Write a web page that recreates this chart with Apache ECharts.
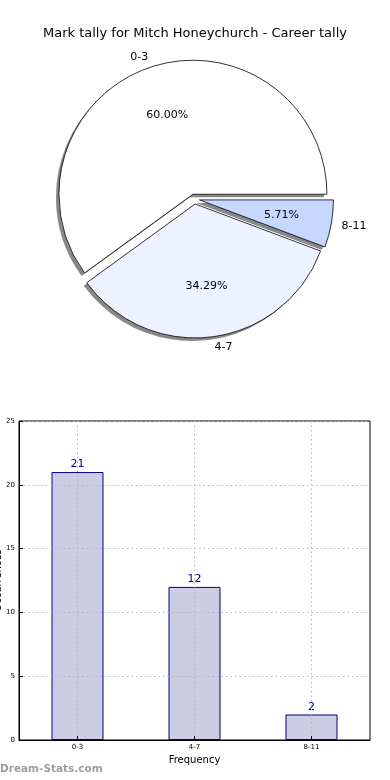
<!DOCTYPE html>
<html>
<head>
<meta charset="utf-8">
<script src="https://cdn.jsdelivr.net/npm/echarts@6/dist/echarts.min.js"></script>
<style>
html,body{margin:0;padding:0;background:#fff;}
#c{width:390px;height:780px;}
</style>
</head>
<body>
<div id="c"></div>
<script>
var titleText = 'Mark tally for Mitch Honeychurch - Career tally';
var categories = ['0-3', '4-7', '8-11'];
var counts = [21, 12, 2];
var sliceColors = ['#ffffff', '#ecf2ff', '#c6d8ff'];
var yTicks = [0, 5, 10, 15, 20, 25];

var total = counts.reduce(function (a, b) { return a + b; }, 0);
var R = 134;
var CX = 194.5, CY = 199;
var FONT = 'DejaVu Sans';

function pieData(kind) {
  return categories.map(function (c, i) {
    var st;
    if (kind === 'main') st = { color: sliceColors[i] };
    else if (kind === 'shadow') st = { color: '#888888', borderWidth: 0 };
    else st = { color: 'rgba(0,0,0,0)', borderWidth: 0 };
    return { name: c, value: counts[i], selected: true, itemStyle: st };
  });
}

function pieBase(center, radius, z) {
  return {
    type: 'pie',
    center: center,
    radius: [0, radius],
    startAngle: 0,
    clockwise: false,
    selectedMode: 'multiple',
    selectedOffset: 5,
    avoidLabelOverlap: false,
    silent: true,
    z: z,
    emphasis: { disabled: true },
    labelLine: { show: false }
  };
}

var shadowPie = pieBase([CX - 3, CY + 3], R, 1);
shadowPie.label = { show: false };
shadowPie.data = pieData('shadow');

var mainPie = pieBase([CX, CY], R, 2);
mainPie.label = { show: false };
mainPie.itemStyle = { borderColor: '#000', borderWidth: 0.8 };
mainPie.data = pieData('main');

var pctPie = pieBase([CX, CY], R * 1.2, 4);
pctPie.label = {
  show: true, position: 'inside',
  fontFamily: FONT, fontSize: 11, color: '#000',
  formatter: function (p) { return (p.value / total * 100).toFixed(2) + '%'; }
};
pctPie.data = pieData('none');

var namePie = pieBase([CX, CY], R * 1.1 - 3, 4);
namePie.label = {
  show: true, position: 'outside',
  fontFamily: FONT, fontSize: 11, color: '#000',
  distanceToLabelLine: 0,
  formatter: '{b}'
};
namePie.labelLine = { show: false, length: 0, length2: 0 };
namePie.data = pieData('none');

var chart = echarts.init(document.getElementById('c'), null, { renderer: 'canvas' });
chart.setOption({
  animation: false,
  backgroundColor: '#ffffff',
  title: {
    text: titleText,
    left: 'center',
    top: 22,
    textStyle: { fontFamily: FONT, fontSize: 13, fontWeight: 'normal', color: '#000' }
  },
  graphic: [{
    type: 'text',
    left: 0,
    top: 764,
    style: { text: 'Dream-Stats.com', font: 'bold 10.5px "DejaVu Sans"', fill: '#9d9d9d' }
  }],
  grid: {
    left: 19, right: 20, top: 421, bottom: 40,
    containLabel: false,
    outerBoundsMode: 'none',
    show: true, borderColor: '#000', borderWidth: 1, backgroundColor: 'transparent'
  },
  xAxis: {
    type: 'category',
    data: categories,
    z: 5,
    name: 'Frequency',
    nameLocation: 'middle',
    nameGap: 15,
    nameMoveOverlap: false,
    nameTextStyle: { fontFamily: FONT, fontSize: 10, color: '#000' },
    axisLine: { lineStyle: { color: '#000', width: 1 } },
    axisTick: { show: true, inside: true, length: 4, alignWithLabel: true, lineStyle: { color: '#000' } },
    axisLabel: { fontFamily: FONT, fontSize: 7, color: '#000', margin: 4 },
    splitLine: { show: true, alignWithLabel: true, lineStyle: { color: '#b5b5b5', type: [1.5, 3], width: 1 } }
  },
  yAxis: {
    type: 'value',
    min: 0, max: 25, interval: 5,
    z: 5,
    name: 'Occurrences',
    nameLocation: 'middle',
    nameGap: 16,
    nameMoveOverlap: false,
    nameTextStyle: { fontFamily: FONT, fontSize: 10, color: '#000' },
    axisLine: { show: true, lineStyle: { color: '#000', width: 1 } },
    axisTick: { show: true, inside: true, length: 4, lineStyle: { color: '#000' } },
    axisLabel: { fontFamily: FONT, fontSize: 7, color: '#000', margin: 4 },
    splitLine: { show: true, lineStyle: { color: '#b5b5b5', type: [1.5, 3], width: 1 } }
  },
  series: [
    shadowPie,
    mainPie,
    pctPie,
    namePie,
    {
      type: 'bar',
      data: counts,
      barWidth: 52,
      z: 2,
      itemStyle: { color: '#cccce5', borderColor: '#000080', borderWidth: 1 },
      label: { show: true, position: 'top', distance: 2, fontFamily: FONT, fontSize: 11, color: '#000080' },
      emphasis: { disabled: true }
    }
  ]
});
</script>
</body>
</html>
